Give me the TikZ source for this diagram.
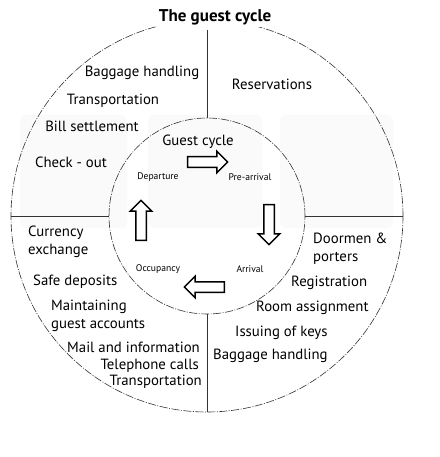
\documentclass[tikz,border=0pt]{standalone}
\usepackage{fontspec}
\setmainfont{PT Sans}
\usetikzlibrary{shapes.arrows}

\begin{document}
\begin{tikzpicture}[x=1pt,y=-1pt,
  item/.style={inner sep=0pt,font=\fontsize{14.8}{18}\selectfont},
  stage/.style={inner sep=0pt,font=\fontsize{9.6}{11}\selectfont},
  ring/.style={circle,draw=black!80,line width=0.6pt,dash pattern=on 8pt off 1.5pt on 1pt off 1.5pt,inner sep=0pt,outer sep=0pt},
  split/.style={draw=black!80,line width=0.7pt},
  cyclearrow/.style={single arrow,draw,line width=1.5pt,fill=white,minimum height=40pt,inner sep=4.5pt,single arrow head extend=5.5pt,single arrow head indent=0pt}]
  \useasboundingbox (0,0) rectangle (439,457);
  %watermark blocks
  \fill[gray!4,rounded corners=6pt] (20,115) rectangle (127,228);
  \fill[gray!4,rounded corners=6pt] (148,115) rectangle (262,228);
  \fill[gray!4,rounded corners=6pt] (280,115) rectangle (393,228);

  \coordinate (c) at (207,216);
  \node[ring,minimum size=392] (outer) at (c) {};
  \node[ring,minimum size=196] (inner) at (c) {};
  \node[font=\bfseries\fontsize{17}{20}\selectfont,fill=white,inner sep=2pt] (title) at (215,17) {The guest cycle};
  \coordinate (topend) at (207,30);
  \draw[split] (topend) -- (inner.north);
  \draw[split] (outer.west) -- (inner.west);
  \draw[split] (inner.east) -- (outer.east);
  \draw[split] (inner.south) -- (outer.south);

  \node[item] (bag1) at (142,73) {Baggage handling};
  \node[item] (trans1) at (113,101) {Transportation};
  \node[item] (bill) at (92,126) {Bill settlement};
  \node[item] (checkout) at (71,162) {Check - out};
  \node[item] (reserv) at (272,84) {Reservations};

  \node[item] (gcycle) at (198,142) {Guest cycle};
  \node[stage] (depart) at (158,177) {Departure};
  \node[stage] (prearr) at (250,177) {Pre-arrival};
  \node[stage] (occup) at (158,269) {Occupancy};
  \node[stage] (arriv) at (250,269) {Arrival};
  \node[cyclearrow] (a1) at (205,162) {};
  \node[cyclearrow,rotate=-90] (a2) at (269,222) {};
  \node[cyclearrow,rotate=180] (a3) at (207,287) {};
  \node[cyclearrow,rotate=90] (a4) at (141,223) {};

  \node[item,align=left,anchor=west] (currency) at (28,242) {Currency\\exchange};
  \node[item,anchor=west] (safe) at (33,282) {Safe deposits};
  \node[item,align=left,anchor=west] (maint) at (51,316) {Maintaining\\guest accounts};
  \node[item,anchor=east] (mail) at (200,347) {Mail and information};
  \node[item,anchor=east] (phone) at (199,366) {Telephone calls};
  \node[item,anchor=east] (trans2) at (202,382) {Transportation};

  \node[item,align=left,anchor=west] (doormen) at (313,248.5) {Doormen \&\\porters};
  \node[item,anchor=west] (regist) at (291,283) {Registration};
  \node[item,anchor=west] (room) at (256,308) {Room assignment};
  \node[item,anchor=west] (keys) at (235,333) {Issuing of keys};
  \node[item,anchor=west] (bag2) at (213,356) {Baggage handling};
\end{tikzpicture}
\end{document}
